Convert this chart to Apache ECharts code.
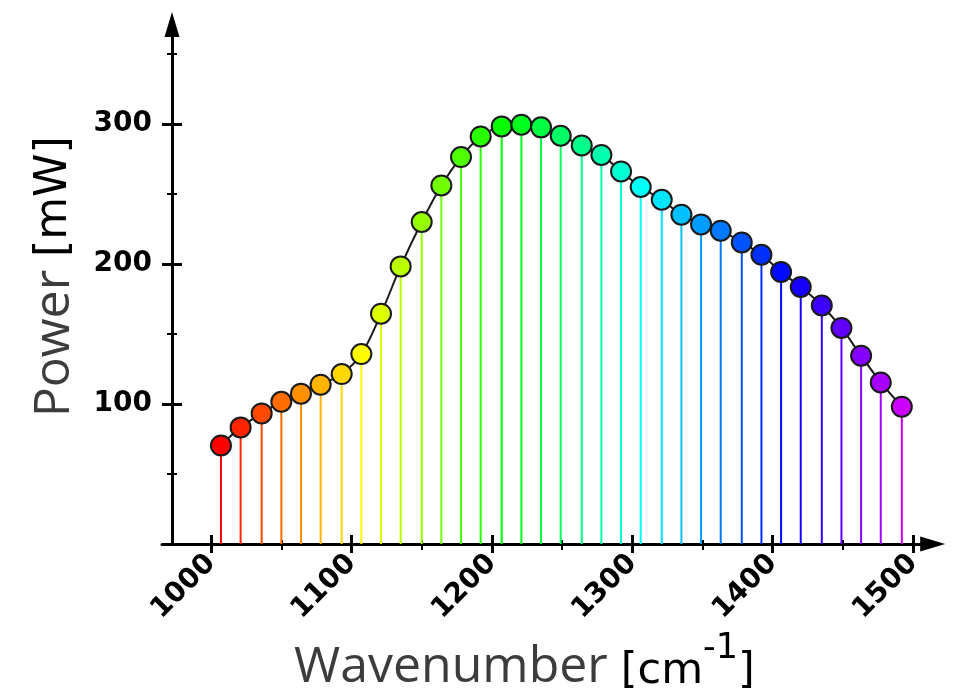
<!DOCTYPE html>
<html>
<head>
<meta charset="utf-8">
<title>Power vs wavenumber</title>
<script src="https://cdn.jsdelivr.net/npm/echarts@6/dist/echarts.min.js"></script>
<style>
  html, body { margin: 0; padding: 0; background: #ffffff; }
  #chart { width: 954px; height: 690px; }
</style>
</head>
<body>
<div id="chart"></div>
<script>
// Measured output power at each wavenumber
const wavenumbers = [1007, 1021, 1036, 1050, 1064, 1078, 1093, 1107, 1121, 1135,
                     1150, 1164, 1178, 1192, 1207, 1221, 1235, 1249, 1264, 1278,
                     1292, 1306, 1321, 1335, 1349, 1363, 1378, 1392, 1406, 1420,
                     1435, 1449, 1463, 1477, 1492];
const powers = [70.4, 83.3, 93.3, 101.6, 107.4, 113.8, 121.4, 135.7, 164.5, 198.3,
                230.0, 256.1, 276.4, 291.1, 298.3, 299.5, 297.6, 291.6, 284.7, 277.9,
                266.1, 255.0, 245.9, 235.2, 228.3, 223.8, 215.4, 206.6, 194.3, 183.6,
                170.4, 154.3, 134.5, 115.4, 98.1];

// Tick positions
const xMajorTicks = [1000, 1100, 1200, 1300, 1400, 1500];
const xMinorTicks = [1050, 1150, 1250, 1350, 1450];
const yMajorTicks = [100, 200, 300];
const yMinorTicks = [50, 150, 250, 350];

// Rainbow colouring from red to violet along the sweep
const n = wavenumbers.length;
const colors = wavenumbers.map((_, i) => 'hsl(' + (i / (n - 1) * 288).toFixed(1) + ',100%,50%)');

const X_MIN = 965, X_MAX = 1514;
const Y_MIN = 0, Y_MAX = 371;
const AXIS_W = 3;
const LABEL_FONT = 'DejaVu Sans';
const plain = v => String(v);

function xAxisLayer(opts) {
  return Object.assign({
    type: 'value', position: 'bottom', min: X_MIN, max: X_MAX,
    axisLine: { show: false, onZero: false },
    axisTick: { show: false },
    axisLabel: { show: false },
    splitLine: { show: false }
  }, opts);
}
function yAxisLayer(opts) {
  return Object.assign({
    type: 'value', position: 'left', offset: -10, min: Y_MIN, max: Y_MAX,
    axisLine: { show: false, onZero: false },
    axisTick: { show: false },
    axisLabel: { show: false },
    splitLine: { show: false }
  }, opts);
}

const chart = echarts.init(document.getElementById('chart'), null, { renderer: 'canvas' });

chart.setOption({
  animation: false,
  backgroundColor: '#ffffff',
  grid: { left: 162, right: 21.3, top: 24.6, bottom: 146, containLabel: false, outerBoundsMode: 'none' },
  xAxis: [
    xAxisLayer({
      axisLine: {
        show: true, onZero: false,
        symbol: ['none', 'triangle'], symbolSize: [15, 25], symbolOffset: [0, 0],
        lineStyle: { color: '#000', width: AXIS_W }
      },
      axisTick: { show: true, customValues: xMajorTicks, length: 9, inside: false,
                  lineStyle: { color: '#000', width: AXIS_W } },
      axisLabel: { show: true, customValues: xMajorTicks, rotate: 45, margin: 15, formatter: plain,
                   fontFamily: LABEL_FONT, fontWeight: 'bold', fontSize: 28, color: '#000' },
      name: '{a|Wavenumber }{b|[cm}{s|-1}{b|]}',
      nameLocation: 'middle',
      nameGap: 81,
      nameTextStyle: {
        padding: [0, 46, 0, 0],
        rich: {
          a: { fontFamily: 'Open Sans', fontSize: 50, color: '#3c3c3c', lineHeight: 62, verticalAlign: 'bottom' },
          b: { fontFamily: LABEL_FONT, fontSize: 43, color: '#000', lineHeight: 54, verticalAlign: 'bottom' },
          s: { fontFamily: LABEL_FONT, fontSize: 35, color: '#000', lineHeight: 35, verticalAlign: 'top' }
        }
      }
    }),
    xAxisLayer({
      axisTick: { show: true, customValues: xMajorTicks, length: 9, inside: true,
                  lineStyle: { color: '#000', width: AXIS_W } }
    }),
    xAxisLayer({
      axisTick: { show: true, customValues: xMinorTicks, length: 6, inside: false,
                  lineStyle: { color: '#000', width: 2 } }
    }),
    xAxisLayer({
      axisTick: { show: true, customValues: xMinorTicks, length: 4, inside: true,
                  lineStyle: { color: '#000', width: 2 } }
    })
  ],
  yAxis: [
    yAxisLayer({
      axisLine: {
        show: true, onZero: false,
        symbol: ['none', 'triangle'], symbolSize: [15, 25], symbolOffset: [0, 0],
        lineStyle: { color: '#000', width: AXIS_W }
      },
      axisTick: { show: true, customValues: yMajorTicks, length: 10, inside: false,
                  lineStyle: { color: '#000', width: AXIS_W } },
      axisLabel: { show: true, customValues: yMajorTicks, margin: 20, formatter: plain,
                   fontFamily: LABEL_FONT, fontWeight: 'bold', fontSize: 28, color: '#000' },
      name: '{a|Power }{b|[mW]}',
      nameLocation: 'middle',
      nameRotate: 90,
      nameGap: 88,
      nameTextStyle: {
        padding: [0, 0, 0, 15],
        rich: {
          a: { fontFamily: 'Open Sans', fontSize: 50, color: '#3c3c3c', lineHeight: 58 },
          b: { fontFamily: LABEL_FONT, fontSize: 44, color: '#000', lineHeight: 58 }
        }
      }
    }),
    yAxisLayer({
      axisTick: { show: true, customValues: yMajorTicks, length: 10, inside: true,
                  lineStyle: { color: '#000', width: AXIS_W } }
    }),
    yAxisLayer({
      axisTick: { show: true, customValues: yMinorTicks, length: 5, inside: false,
                  lineStyle: { color: '#000', width: 2 } }
    }),
    yAxisLayer({
      axisTick: { show: true, customValues: yMinorTicks, length: 5, inside: true,
                  lineStyle: { color: '#000', width: 2 } }
    })
  ],
  series: [
    {
      // vertical stems from the baseline up to each point
      type: 'bar',
      xAxisIndex: 0, yAxisIndex: 0,
      barWidth: 2,
      z: 1,
      silent: true,
      data: wavenumbers.map((w, i) => ({ value: [w, powers[i]], itemStyle: { color: colors[i] } }))
    },
    {
      type: 'line',
      xAxisIndex: 0, yAxisIndex: 0,
      smooth: 0.35,
      z: 3,
      symbol: 'circle',
      symbolSize: 20,
      lineStyle: { color: '#1a1a1a', width: 2 },
      data: wavenumbers.map((w, i) => ({
        value: [w, powers[i]],
        itemStyle: { color: colors[i], borderColor: '#1a1a1a', borderWidth: 2 }
      }))
    }
  ]
});
</script>
</body>
</html>
